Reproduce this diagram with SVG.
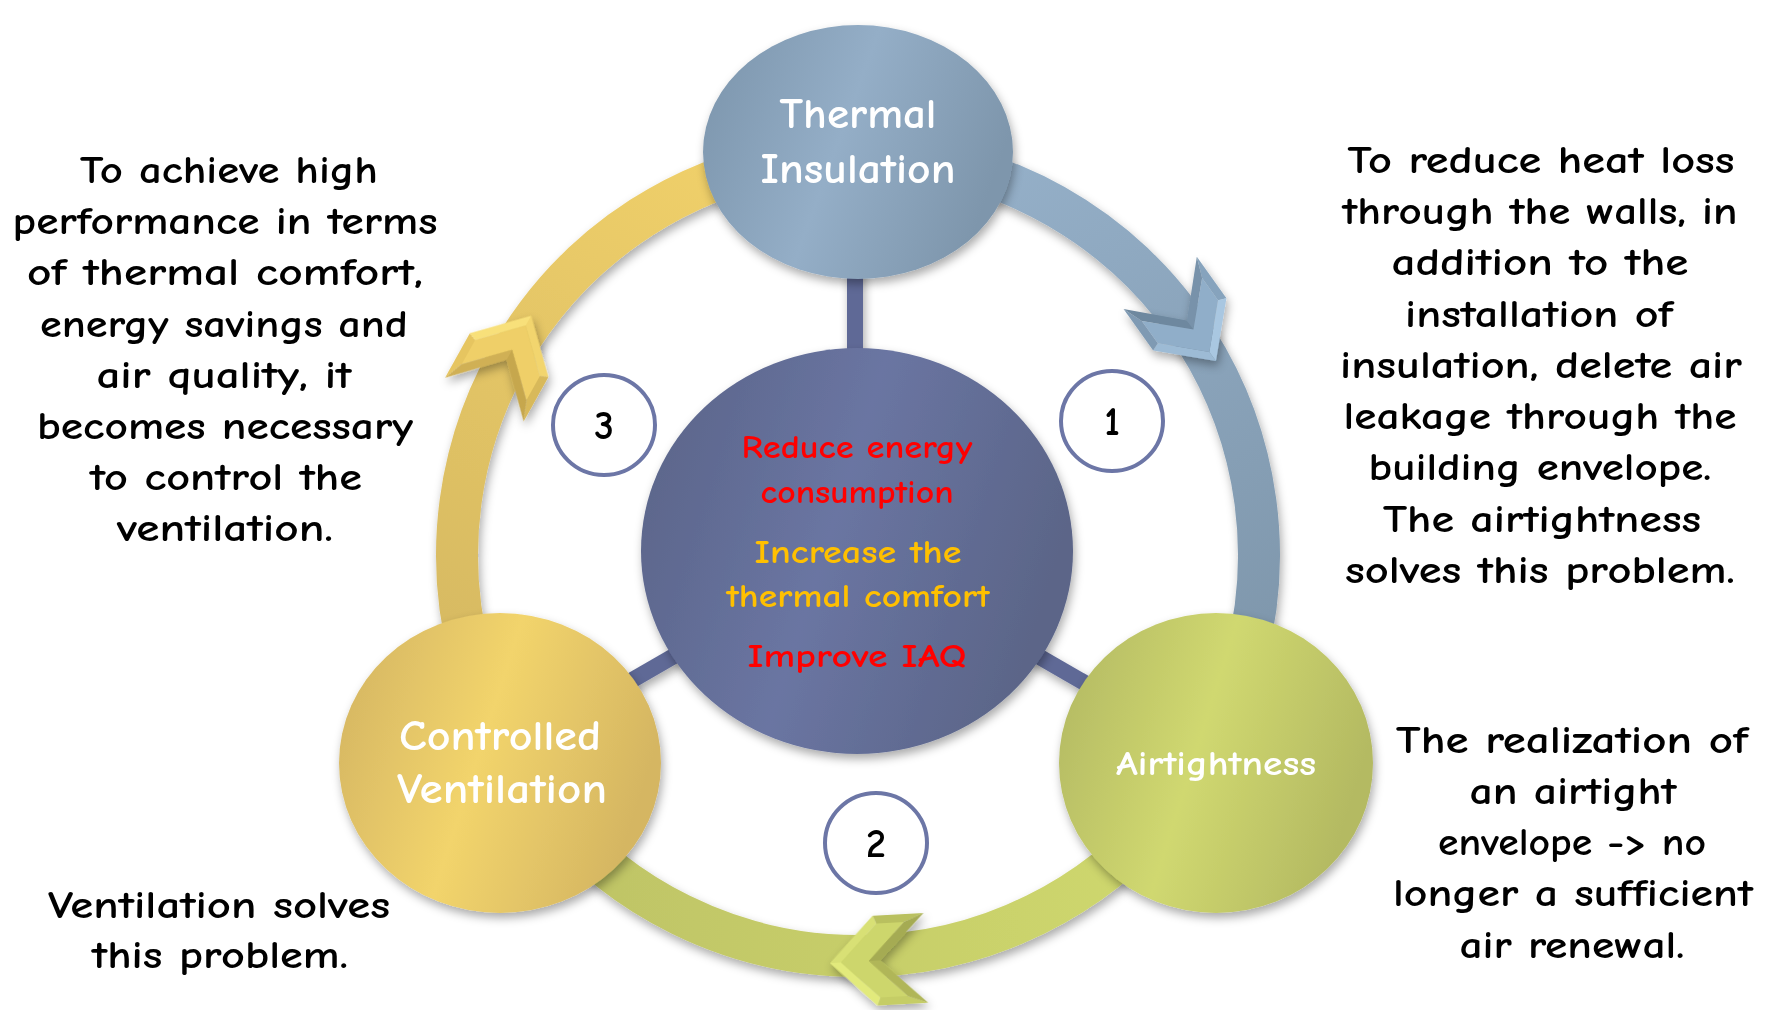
<svg xmlns="http://www.w3.org/2000/svg" xmlns:xlink="http://www.w3.org/1999/xlink" width="1771" height="1010" viewBox="0 0 1771 1010">
<style>
  .txt{font-family:"Comic Sans MS","Comic Neue","Open Sans","DejaVu Sans",sans-serif;text-anchor:middle;font-weight:700;}
  .side{font-size:39px;fill:#000;}
  .lbl{font-size:42px;fill:#fff;}
  .ctr{font-size:33px;}
  .red{fill:#ff0000;}
  .gold{fill:#ffc000;}
  .num{font-size:40px;fill:#000;}
  .ring{fill:none;stroke-width:42;}
  .bar{stroke:#5f6996;stroke-width:16;}
  .numc{fill:#fff;stroke:#6c76a6;stroke-width:4;}
</style>
<defs>
  <filter id="sh" filterUnits="userSpaceOnUse" x="0" y="0" width="1771" height="1010">
    <feDropShadow dx="2" dy="5" stdDeviation="5" flood-color="#000" flood-opacity="0.33"/>
  </filter>
  <linearGradient id="gThermal" x1="0" y1="0.1" x2="1" y2="0.4">
    <stop offset="0" stop-color="#7c95ac"/>
    <stop offset="0.5" stop-color="#94aec7"/>
    <stop offset="1" stop-color="#7e96ac"/>
  </linearGradient>
  <linearGradient id="gCenter" x1="0" y1="0.1" x2="1" y2="0.4">
    <stop offset="0" stop-color="#5a6488"/>
    <stop offset="0.5" stop-color="#6a75a2"/>
    <stop offset="1" stop-color="#5b6588"/>
  </linearGradient>
  <linearGradient id="gAir" x1="0" y1="0.1" x2="1" y2="0.4">
    <stop offset="0" stop-color="#b2b862"/>
    <stop offset="0.5" stop-color="#d0d870"/>
    <stop offset="1" stop-color="#b4ba62"/>
  </linearGradient>
  <linearGradient id="gVent" x1="0" y1="0.1" x2="1" y2="0.4">
    <stop offset="0" stop-color="#d3b462"/>
    <stop offset="0.5" stop-color="#f2d46c"/>
    <stop offset="1" stop-color="#d5b662"/>
  </linearGradient>
  <linearGradient id="gRingB" gradientUnits="userSpaceOnUse" x1="928" y1="160" x2="1245" y2="660">
    <stop offset="0" stop-color="#96b1ca"/>
    <stop offset="1" stop-color="#7f97ac"/>
  </linearGradient>
  <linearGradient id="gRingG" gradientUnits="userSpaceOnUse" x1="550" y1="813" x2="1165" y2="813">
    <stop offset="0" stop-color="#bec365"/>
    <stop offset="1" stop-color="#cfd86e"/>
  </linearGradient>
  <linearGradient id="gRingY" gradientUnits="userSpaceOnUse" x1="470" y1="659" x2="788" y2="160">
    <stop offset="0" stop-color="#d7ba62"/>
    <stop offset="1" stop-color="#f1d16a"/>
  </linearGradient>
  <polygon id="cf1" points="-46,-45 5,-45 1.7,-37 -25.7,-37"/>
  <polygon id="cf2" points="5,-45 50,0 38.7,0 1.7,-37"/>
  <polygon id="cf3" points="50,0 5,45 1.7,37 38.7,0"/>
  <polygon id="cf4" points="5,45 -46,45 -25.7,37 1.7,37"/>
  <polygon id="cf5" points="-46,45 0,0 11.3,0 -25.7,37"/>
  <polygon id="cf6" points="0,0 -46,-45 -25.7,-37 11.3,0"/>
  <polygon id="cfi" points="-25.7,-37 1.7,-37 38.7,0 1.7,37 -25.7,37 11.3,0"/>
</defs>

<g id="connectors">
  <g id="ring" filter="url(#sh)">
    <path class="ring" stroke="url(#gRingY)" d="M 470.7 658.8 A 401 401 0 0 1 788.4 160.1"/>
    <path class="ring" stroke="url(#gRingB)" d="M 927.6 160.1 A 401 401 0 0 1 1245.3 658.8"/>
    <path class="ring" stroke="url(#gRingG)" d="M 1165.2 812.8 A 401 401 0 0 1 550.8 812.8"/>
  </g>
  <g id="chevrons" filter="url(#sh)">
    <g id="chevron-1" transform="translate(1186.9,320.4) rotate(54.5)">
      <use href="#cf1" fill="#86a3bd"/>
      <use href="#cf2" fill="#a9c7e1"/>
      <use href="#cf3" fill="#9dbbd5"/>
      <use href="#cf4" fill="#7f9ab3"/>
      <use href="#cf5" fill="#6e889f"/>
      <use href="#cf6" fill="#7892aa"/>
      <use href="#cfi" fill="#90aec9"/>
    </g>
    <g id="chevron-2" transform="translate(880,960.4) rotate(176.9)">
      <use href="#cf1" fill="#c5cd66"/>
      <use href="#cf2" fill="#e2ea7c"/>
      <use href="#cf3" fill="#d8e074"/>
      <use href="#cf4" fill="#b9c05e"/>
      <use href="#cf5" fill="#a5ab52"/>
      <use href="#cf6" fill="#b0b658"/>
      <use href="#cfi" fill="#cdd66c"/>
    </g>
    <g id="chevron-3" transform="translate(506.7,359.5) rotate(-60.9)">
      <use href="#cf1" fill="#e6c561"/>
      <use href="#cf2" fill="#f8e07a"/>
      <use href="#cf3" fill="#f2d56e"/>
      <use href="#cf4" fill="#d8b95a"/>
      <use href="#cf5" fill="#c6a74e"/>
      <use href="#cf6" fill="#d0b055"/>
      <use href="#cfi" fill="#efcf67"/>
    </g>
  </g>
  <g id="bars" filter="url(#sh)">
    <line class="bar" x1="855" y1="551" x2="855" y2="250"/>
    <line class="bar" x1="856" y1="551" x2="1116" y2="701"/>
    <line class="bar" x1="856" y1="551" x2="596" y2="701"/>
  </g>
</g>

<g id="node-center">
  <ellipse cx="857" cy="551" rx="216" ry="203" fill="url(#gCenter)" filter="url(#sh)"/>
  <text class="txt ctr red" x="857" y="458" textLength="231" lengthAdjust="spacingAndGlyphs">Reduce energy</text>
  <text class="txt ctr red" x="857" y="503" textLength="193" lengthAdjust="spacingAndGlyphs">consumption</text>
  <text class="txt ctr gold" x="858" y="563" textLength="207" lengthAdjust="spacingAndGlyphs">Increase the</text>
  <text class="txt ctr gold" x="858" y="607" textLength="263" lengthAdjust="spacingAndGlyphs">thermal comfort</text>
  <text class="txt ctr red" x="857" y="667" textLength="219" lengthAdjust="spacingAndGlyphs">Improve IAQ</text>
</g>

<g id="node-thermal">
  <ellipse cx="858" cy="152" rx="155" ry="127" fill="url(#gThermal)" filter="url(#sh)"/>
  <text class="txt lbl" x="858" y="128" textLength="157" lengthAdjust="spacingAndGlyphs">Thermal</text>
  <text class="txt lbl" x="858" y="183" textLength="195" lengthAdjust="spacingAndGlyphs">Insulation</text>
</g>

<g id="node-airtightness">
  <ellipse cx="1216" cy="763" rx="157" ry="150" fill="url(#gAir)" filter="url(#sh)"/>
  <text class="txt lbl" style="font-size:35px" x="1216" y="775" textLength="200" lengthAdjust="spacingAndGlyphs">Airtightness</text>
</g>

<g id="node-ventilation">
  <ellipse cx="500" cy="763" rx="161" ry="150" fill="url(#gVent)" filter="url(#sh)"/>
  <text class="txt lbl" x="500" y="750" textLength="202" lengthAdjust="spacingAndGlyphs">Controlled</text>
  <text class="txt lbl" x="502" y="803" textLength="210" lengthAdjust="spacingAndGlyphs">Ventilation</text>
</g>

<g id="step-1">
  <ellipse class="numc" cx="1112" cy="421" rx="51" ry="50"/>
  <text class="txt num" x="1112" y="435">1</text>
</g>
<g id="step-2">
  <ellipse class="numc" cx="876" cy="843" rx="51" ry="50"/>
  <text class="txt num" x="876" y="857">2</text>
</g>
<g id="step-3">
  <ellipse class="numc" cx="604" cy="425" rx="51" ry="50"/>
  <text class="txt num" x="604" y="439">3</text>
</g>

<g id="text-left-top">
  <text class="txt side" x="229" y="183" textLength="298" lengthAdjust="spacingAndGlyphs">To achieve high</text>
  <text class="txt side" x="225" y="234" textLength="425" lengthAdjust="spacingAndGlyphs">performance in terms</text>
  <text class="txt side" x="225" y="285" textLength="396" lengthAdjust="spacingAndGlyphs">of thermal comfort,</text>
  <text class="txt side" x="224" y="337" textLength="368" lengthAdjust="spacingAndGlyphs">energy savings and</text>
  <text class="txt side" x="224" y="388" textLength="255" lengthAdjust="spacingAndGlyphs">air quality, it</text>
  <text class="txt side" x="225" y="439" textLength="376" lengthAdjust="spacingAndGlyphs">becomes necessary</text>
  <text class="txt side" x="226" y="490" textLength="272" lengthAdjust="spacingAndGlyphs">to control the</text>
  <text class="txt side" x="225" y="541" textLength="216" lengthAdjust="spacingAndGlyphs">ventilation.</text>
</g>

<g id="text-right-top">
  <text class="txt side" x="1541" y="173" textLength="387" lengthAdjust="spacingAndGlyphs">To reduce heat loss</text>
  <text class="txt side" x="1540" y="224" textLength="395" lengthAdjust="spacingAndGlyphs">through the walls, in</text>
  <text class="txt side" x="1540" y="275" textLength="297" lengthAdjust="spacingAndGlyphs">addition to the</text>
  <text class="txt side" x="1539" y="327" textLength="268" lengthAdjust="spacingAndGlyphs">installation of</text>
  <text class="txt side" x="1541" y="378" textLength="402" lengthAdjust="spacingAndGlyphs">insulation, delete air</text>
  <text class="txt side" x="1540" y="429" textLength="393" lengthAdjust="spacingAndGlyphs">leakage through the</text>
  <text class="txt side" x="1540" y="480" textLength="343" lengthAdjust="spacingAndGlyphs">building envelope.</text>
  <text class="txt side" x="1542" y="532" textLength="318" lengthAdjust="spacingAndGlyphs">The airtightness</text>
  <text class="txt side" x="1540" y="583" textLength="390" lengthAdjust="spacingAndGlyphs">solves this problem.</text>
</g>

<g id="text-right-bottom">
  <text class="txt side" x="1572" y="753" textLength="352" lengthAdjust="spacingAndGlyphs">The realization of</text>
  <text class="txt side" x="1573" y="804" textLength="207" lengthAdjust="spacingAndGlyphs">an airtight</text>
  <text class="txt side" x="1572" y="855" textLength="268" lengthAdjust="spacingAndGlyphs">envelope -&gt; no</text>
  <text class="txt side" x="1573" y="906" textLength="360" lengthAdjust="spacingAndGlyphs">longer a sufficient</text>
  <text class="txt side" x="1572" y="958" textLength="225" lengthAdjust="spacingAndGlyphs">air renewal.</text>
</g>

<g id="text-left-bottom">
  <text class="txt side" x="219" y="918" textLength="342" lengthAdjust="spacingAndGlyphs">Ventilation solves</text>
  <text class="txt side" x="220" y="968" textLength="256" lengthAdjust="spacingAndGlyphs">this problem.</text>
</g>
</svg>
